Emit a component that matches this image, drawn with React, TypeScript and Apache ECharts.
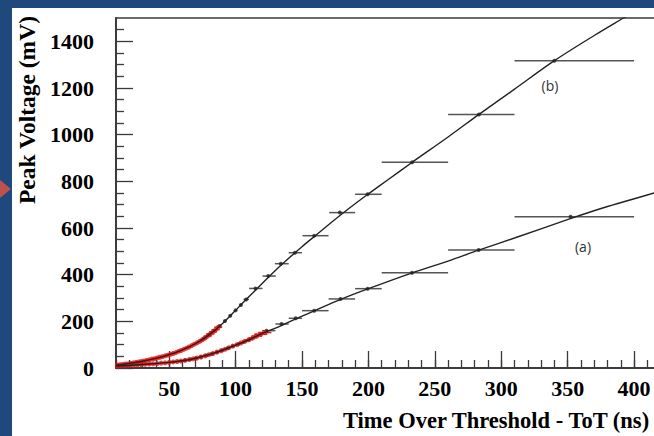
import { useEffect, useRef } from "react";
import * as echarts from "echarts";

// Axis ticks and labels
const xMajorTicks = [50, 100, 150, 200, 250, 300, 350, 400, 450];
const xTickLabels = [50, 100, 150, 200, 250, 300, 350, 400];
const xMinorTicks = [10, 20, 30, 40, 50, 60, 70, 80, 90, 100, 110, 120, 130, 140, 150, 160, 170, 180, 190, 200, 210, 220, 230, 240, 250, 260, 270, 280, 290, 300, 310, 320, 330, 340, 350, 360, 370, 380, 390, 400, 410, 420, 430, 440, 450];
const yMajorTicks = [0, 200, 400, 600, 800, 1000, 1200, 1400];
const yMinorTicks = [50, 100, 150, 250, 300, 350, 450, 500, 550, 650, 700, 750, 850, 900, 950, 1050, 1100, 1150, 1250, 1300, 1350, 1450];

// Fitted curves: [ToT (ns), peak voltage (mV)]
const fitB = [[10, 12], [20, 19], [30, 29], [40, 41], [50, 57], [60, 78], [70, 105], [80, 142], [90, 190], [100, 247], [110, 305], [120, 362], [130, 418], [140, 470], [150, 520], [160, 567], [170, 614], [180, 660], [190, 704], [200, 746], [215, 808], [233, 882], [260, 990], [283, 1086], [310, 1195], [340, 1317], [370, 1425], [392, 1500], [420, 1595]];
const fitA = [[10, 8], [20, 11], [30, 15], [40, 19], [50, 24], [60, 31], [70, 42], [80, 57], [90, 76], [100, 98], [110, 121], [120, 148], [130, 171], [140, 197], [150, 222], [160, 247], [180, 296], [200, 340], [233, 408], [260, 458], [283, 505], [310, 557], [352, 640], [380, 692], [415, 750], [450, 810]];

// Measured points: [ToT, mV, ToT low, ToT high]
const redB = [[11, 13, 10, 12], [13, 14, 12, 14], [15, 15, 14, 16], [17, 17, 16, 18], [19, 18, 18, 20], [21, 20, 20, 22], [23, 22, 22, 24], [25, 24, 24, 26], [27, 26, 26, 28], [29, 28, 28, 30], [31, 30, 30, 32], [33, 33, 32, 34], [35, 35, 34, 36], [37, 38, 36, 38], [39, 40, 38, 40], [41, 43, 40, 42], [43, 46, 42, 44], [45, 49, 44, 46], [47, 52, 46, 48], [49, 55, 48, 50], [51, 59, 50, 52], [53, 62, 52, 54], [55, 66, 54, 56], [57, 71, 56, 58], [59, 75, 58, 60], [61, 80, 60, 62], [63, 85, 62, 64], [65, 90, 64, 66], [67, 96, 66, 68], [69, 102, 68, 70], [71, 108, 70, 72], [73, 114, 71, 75], [75, 121, 73, 77], [77, 128, 75, 79], [79, 137, 76, 82], [81, 146, 78, 84], [83, 155, 80, 86], [85, 164, 82, 88], [87, 175, 84, 90]];
const blackB = [[76, 126, 75, 77], [80, 142, 79, 81], [84, 160, 83, 85], [88, 180, 87, 89], [92, 201, 91, 93], [96, 224, 95, 97], [100, 247, 99, 101], [104, 270, 103, 105], [108, 294, 106, 110], [115, 341, 110.2, 120.3], [124.6, 394, 120.3, 130.3], [134.1, 447, 129.6, 140], [144.7, 494, 140, 150], [159.2, 567, 150.4, 170], [178.5, 666, 170.5, 190], [199.4, 744.5, 190, 210], [233, 882, 210, 260], [283.2, 1086, 260, 310], [340, 1317, 310, 400]];
const redA = [[11, 8, 10, 12], [14, 9, 13, 15], [17, 10, 16, 18], [20, 11, 19, 21], [23, 12, 22, 24], [26, 13, 25, 27], [29, 15, 28, 30], [32, 16, 31, 33], [35, 17, 34, 36], [38, 18, 37, 39], [41, 19, 40, 42], [44, 21, 43, 45], [47, 22, 46, 48], [50, 24, 49, 51], [53, 26, 52, 54], [56, 28, 55, 57], [59, 30, 58, 60], [62, 33, 61, 63], [65, 36, 64, 66], [68, 39, 67, 69], [71, 43, 70, 72], [74, 47, 73, 75], [77, 52, 76, 78], [80, 57, 79, 81], [83, 62, 82, 84], [86, 68, 85, 87], [89, 74, 88, 90], [92, 80, 91, 93], [95, 87, 94, 96], [98, 94, 97, 99], [101, 100, 100, 102], [104, 107, 102, 106], [107, 114, 105, 109], [110, 121, 107, 113], [113, 129, 110, 116], [116, 137, 112, 120], [119, 145, 114, 124], [122, 152, 117, 127]];
const blackA = [[62, 33, 61, 63], [66, 37, 65, 67], [70, 42, 69, 71], [74, 47, 73, 75], [78, 54, 77, 79], [82, 60, 81, 83], [86, 68, 85, 87], [90, 76, 89, 91], [94, 85, 93, 95], [98, 94, 97, 99], [102, 102, 101, 103], [106, 112, 105, 107], [110, 121, 109, 111], [123.3, 160, 120, 130], [134.6, 188.6, 130, 140], [145.3, 213, 140, 150], [159.2, 245.7, 150, 170], [179, 296, 170, 190], [199.4, 340, 190, 210], [232.8, 408.5, 210, 260], [283, 505.8, 260, 310], [352.2, 648.6, 310, 400]];

const SERIF = '"Liberation Serif", "Times New Roman", serif';
const AXIS_COLOR = "#3a3a3a";

function errorBars(data: number[][], color: string, width: number) {
  return {
    type: "custom",
    data,
    encode: { x: [0, 2, 3], y: 1 },
    clip: true,
    silent: true,
    z: 3,
    renderItem: (_params: any, api: any) => {
      const y = api.value(1);
      const p1 = api.coord([api.value(2), y]);
      const p2 = api.coord([api.value(3), y]);
      return {
        type: "line",
        shape: { x1: p1[0], y1: p1[1], x2: p2[0], y2: p2[1] },
        style: { stroke: color, lineWidth: width },
      };
    },
  };
}

function points(data: number[][], color: string, size: number) {
  return {
    type: "scatter",
    data: data.map((d) => [d[0], d[1]]),
    symbol: "circle",
    symbolSize: size,
    itemStyle: { color },
    clip: true,
    silent: true,
    z: 4,
  };
}

function fit(data: number[][]) {
  return {
    type: "line",
    data,
    smooth: 0.3,
    showSymbol: false,
    clip: true,
    silent: true,
    lineStyle: { color: "#222", width: 1.4 },
    z: 5,
  };
}

export default function App() {
  const ref = useRef<HTMLDivElement>(null);
  useEffect(() => {
    if (!ref.current) return;
    const chart = echarts.init(ref.current, undefined, { renderer: "svg" });
    const xBase = {
      type: "value",
      min: 10,
      max: 450,
      position: "bottom",
      axisLine: { show: true, lineStyle: { color: AXIS_COLOR, width: 1.5 } },
      splitLine: { show: false },
    };
    const yBase = {
      type: "value",
      min: 0,
      max: 1500,
      position: "left",
      axisLine: { show: true, lineStyle: { color: AXIS_COLOR, width: 1.5 } },
      splitLine: { show: false },
    };
    chart.setOption({
      animation: false,
      backgroundColor: "#1f497d",
      grid: {
        left: 116,
        top: 18,
        right: 19.5,
        bottom: 68,
        containLabel: false,
        outerBoundsMode: "none",
        show: true,
        backgroundColor: "#ffffff",
        borderColor: AXIS_COLOR,
        borderWidth: 1.5,
      },
      xAxis: [
        {
          ...xBase,
          axisTick: { show: true, inside: true, length: 17, customValues: xMajorTicks, lineStyle: { color: AXIS_COLOR, width: 1.3 } },
          axisLabel: {
            show: true,
            customValues: xTickLabels,
            formatter: (v: number) => String(v),
            margin: 9,
            color: "#000",
            fontFamily: SERIF,
            fontWeight: "bold",
            fontSize: 22,
          },
        },
        {
          ...xBase,
          axisTick: { show: true, inside: true, length: 8, customValues: xMinorTicks, lineStyle: { color: AXIS_COLOR, width: 1.3 } },
          axisLabel: { show: false },
        },
      ],
      yAxis: [
        {
          ...yBase,
          axisTick: { show: true, inside: true, length: 17, customValues: yMajorTicks, lineStyle: { color: AXIS_COLOR, width: 1.3 } },
          axisLabel: {
            show: true,
            customValues: yMajorTicks,
            formatter: (v: number) => String(v),
            margin: 22,
            color: "#000",
            fontFamily: SERIF,
            fontWeight: "bold",
            fontSize: 22,
          },
        },
        {
          ...yBase,
          axisTick: { show: true, inside: true, length: 8, customValues: yMinorTicks, lineStyle: { color: AXIS_COLOR, width: 1.3 } },
          axisLabel: { show: false },
        },
      ],
      series: [
        fit(fitB),
        fit(fitA),
        errorBars(blackB, "#555", 1.5),
        errorBars(blackA, "#555", 1.5),
        errorBars(redB, "#ee1111", 1.5),
        errorBars(redA, "#ee1111", 1.5),
        points(blackB, "#222", 4),
        points(blackA, "#222", 4),
        points(redB, "#ee1111", 5),
        points(redA, "#ee1111", 5),
      ],
      graphic: [
        {
          type: "rect",
          z: -10,
          shape: { x: 12, y: 8, width: 720, height: 440 },
          style: { fill: "#ffffff" },
        },
        {
          type: "polygon",
          shape: { points: [[0, 180], [11, 189], [0, 198]] },
          style: { fill: "#c0504d" },
        },
        {
          type: "text",
          x: 27,
          y: 110,
          rotation: Math.PI / 2,
          style: {
            text: "Peak Voltage (mV)",
            font: `bold 23.5px ${SERIF}`,
            fill: "#000",
            align: "center",
            verticalAlign: "middle",
          },
        },
        {
          type: "text",
          x: 343,
          y: 420,
          style: {
            text: "Time Over Threshold - ToT (ns)",
            font: `bold 22.5px ${SERIF}`,
            fill: "#000",
            align: "left",
            verticalAlign: "middle",
          },
        },
        {
          type: "text",
          x: 550,
          y: 85,
          style: { text: "(b)", font: '14px "Open Sans", sans-serif', fill: "#333", align: "center", verticalAlign: "middle" },
        },
        {
          type: "text",
          x: 583,
          y: 246,
          style: { text: "(a)", font: '14px "Open Sans", sans-serif', fill: "#333", align: "center", verticalAlign: "middle" },
        },
      ],
    });
    return () => chart.dispose();
  }, []);
  return (
    <div style={{ position: "fixed", left: 0, top: 0, width: 654, height: 436, overflow: "hidden" }}>
      <div ref={ref} style={{ position: "absolute", left: 0, top: 0, width: 720, height: 436 }} />
    </div>
  );
}
